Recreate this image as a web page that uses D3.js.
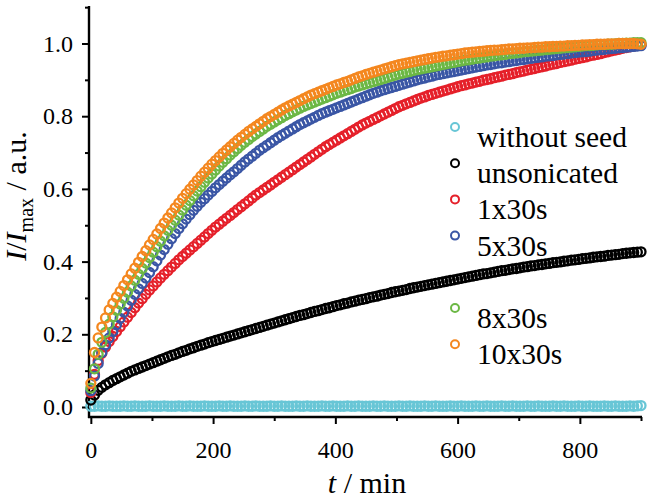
<!DOCTYPE html>
<html><head><meta charset="utf-8">
<script src="https://cdn.jsdelivr.net/npm/d3@7"></script>
<style>body{margin:0;background:#fff}svg{display:block}</style>
</head><body>
<svg id="c" width="653" height="502"></svg>
<script>
// time in minutes
const times = [
0,6,12,18,24,30,36,42,48,54,
60,66,72,78,84,90,96,102,108,114,
120,126,132,138,144,150,156,162,168,174,
180,186,192,198,204,210,216,222,228,234,
240,246,252,258,264,270,276,282,288,294,
300,306,312,318,324,330,336,342,348,354,
360,366,372,378,384,390,396,402,408,414,
420,426,432,438,444,450,456,462,468,474,
480,486,492,498,504,510,516,522,528,534,
540,546,552,558,564,570,576,582,588,594,
600,606,612,618,624,630,636,642,648,654,
660,666,672,678,684,690,696,702,708,714,
720,726,732,738,744,750,756,762,768,774,
780,786,792,798,804,810,816,822,828,834,
840,846,852,858,864,870,876,882,888,894,
900];

const seriesNames = ["without seed","unsonicated","1x30s","5x30s","8x30s","10x30s"];
const seriesColors = ["#68c6d6","#000000","#e5202a","#3a56a5","#6cb845","#f4871f"];

const withoutSeed = [
0.002,0.002,0.003,0.002,0.002,0.003,0.002,0.002,0.002,0.003,
0.002,0.002,0.003,0.002,0.002,0.002,0.003,0.002,0.002,0.002,
0.003,0.002,0.002,0.002,0.003,0.002,0.002,0.003,0.002,0.002,
0.002,0.003,0.002,0.002,0.002,0.003,0.002,0.002,0.003,0.002,
0.002,0.002,0.003,0.002,0.002,0.003,0.002,0.002,0.002,0.003,
0.002,0.002,0.003,0.002,0.002,0.002,0.003,0.002,0.002,0.003,
0.002,0.002,0.002,0.003,0.002,0.002,0.003,0.002,0.002,0.002,
0.003,0.002,0.002,0.003,0.002,0.002,0.002,0.003,0.002,0.002,
0.003,0.002,0.002,0.002,0.003,0.002,0.002,0.003,0.002,0.002,
0.002,0.003,0.002,0.002,0.003,0.002,0.002,0.002,0.003,0.002,
0.002,0.003,0.002,0.002,0.002,0.003,0.002,0.002,0.003,0.002,
0.002,0.002,0.003,0.002,0.002,0.003,0.002,0.002,0.002,0.003,
0.002,0.002,0.003,0.002,0.002,0.002,0.003,0.002,0.002,0.003,
0.002,0.002,0.002,0.003,0.002,0.002,0.003,0.002,0.002,0.002,
0.003,0.002,0.002,0.003,0.002,0.002,0.002,0.003,0.002,0.003,
0.004];

const unsonicated = [
0.019,0.033,0.046,0.054,0.061,0.067,0.073,0.078,0.083,0.088,
0.093,0.098,0.102,0.106,0.110,0.114,0.118,0.122,0.126,0.130,
0.134,0.138,0.142,0.145,0.149,0.153,0.156,0.160,0.163,0.167,
0.170,0.173,0.177,0.180,0.183,0.186,0.189,0.192,0.195,0.198,
0.201,0.204,0.207,0.210,0.213,0.216,0.219,0.222,0.225,0.228,
0.231,0.234,0.237,0.240,0.243,0.246,0.249,0.252,0.254,0.257,
0.260,0.263,0.265,0.268,0.271,0.273,0.276,0.279,0.281,0.284,
0.286,0.289,0.291,0.294,0.296,0.298,0.301,0.303,0.305,0.308,
0.310,0.312,0.315,0.317,0.319,0.321,0.323,0.326,0.328,0.330,
0.332,0.334,0.336,0.338,0.340,0.342,0.344,0.346,0.348,0.350,
0.352,0.354,0.356,0.358,0.360,0.362,0.364,0.366,0.367,0.369,
0.371,0.373,0.375,0.376,0.378,0.380,0.381,0.383,0.385,0.386,
0.388,0.389,0.391,0.392,0.394,0.395,0.397,0.398,0.399,0.401,
0.402,0.404,0.405,0.406,0.408,0.409,0.410,0.412,0.413,0.414,
0.415,0.417,0.418,0.419,0.420,0.422,0.423,0.424,0.425,0.426,
0.427];

const son1x30 = [
0.040,0.090,0.128,0.148,0.165,0.180,0.194,0.208,0.221,0.234,
0.247,0.260,0.273,0.286,0.298,0.310,0.322,0.333,0.344,0.355,
0.365,0.375,0.385,0.395,0.405,0.414,0.423,0.432,0.441,0.450,
0.459,0.468,0.477,0.486,0.495,0.503,0.511,0.519,0.527,0.535,
0.543,0.551,0.559,0.567,0.575,0.583,0.590,0.597,0.604,0.611,
0.618,0.625,0.632,0.639,0.646,0.653,0.660,0.667,0.674,0.681,
0.688,0.695,0.702,0.709,0.716,0.722,0.728,0.734,0.740,0.746,
0.752,0.758,0.764,0.770,0.776,0.781,0.786,0.791,0.796,0.801,
0.806,0.811,0.816,0.821,0.826,0.830,0.834,0.838,0.842,0.846,
0.850,0.853,0.857,0.860,0.863,0.866,0.869,0.872,0.875,0.878,
0.881,0.884,0.886,0.889,0.891,0.894,0.896,0.899,0.901,0.903,
0.906,0.908,0.910,0.913,0.915,0.917,0.920,0.922,0.924,0.927,
0.929,0.931,0.934,0.936,0.938,0.941,0.943,0.945,0.948,0.950,
0.952,0.954,0.957,0.959,0.961,0.963,0.966,0.968,0.970,0.972,
0.975,0.977,0.980,0.982,0.984,0.987,0.989,0.991,0.993,0.995,
0.996];

const son5x30 = [
0.045,0.085,0.120,0.150,0.171,0.190,0.208,0.226,0.244,0.261,
0.278,0.294,0.310,0.325,0.340,0.355,0.370,0.386,0.402,0.418,
0.433,0.448,0.463,0.477,0.491,0.504,0.517,0.529,0.541,0.552,
0.563,0.573,0.583,0.593,0.603,0.612,0.621,0.630,0.639,0.647,
0.656,0.665,0.674,0.682,0.690,0.698,0.706,0.713,0.720,0.727,
0.734,0.741,0.747,0.753,0.759,0.765,0.771,0.777,0.782,0.787,
0.792,0.797,0.802,0.807,0.811,0.815,0.819,0.823,0.827,0.831,
0.835,0.839,0.843,0.847,0.851,0.855,0.859,0.863,0.866,0.870,
0.873,0.876,0.879,0.882,0.885,0.888,0.891,0.894,0.897,0.900,
0.903,0.905,0.908,0.910,0.913,0.915,0.917,0.919,0.921,0.923,
0.925,0.927,0.929,0.931,0.933,0.935,0.937,0.939,0.941,0.942,
0.944,0.946,0.947,0.949,0.950,0.952,0.953,0.955,0.956,0.958,
0.959,0.961,0.962,0.963,0.965,0.966,0.967,0.969,0.970,0.971,
0.972,0.974,0.975,0.976,0.977,0.978,0.979,0.981,0.982,0.983,
0.984,0.985,0.986,0.987,0.988,0.989,0.990,0.991,0.992,0.993,
0.994];

const son8x30 = [
0.052,0.105,0.145,0.178,0.205,0.228,0.248,0.266,0.283,0.299,
0.316,0.333,0.349,0.365,0.381,0.396,0.411,0.426,0.441,0.456,
0.471,0.486,0.500,0.514,0.528,0.542,0.555,0.568,0.581,0.594,
0.606,0.618,0.630,0.641,0.652,0.663,0.673,0.683,0.693,0.702,
0.711,0.720,0.728,0.736,0.744,0.751,0.758,0.765,0.772,0.778,
0.784,0.790,0.796,0.802,0.807,0.812,0.817,0.822,0.827,0.831,
0.835,0.839,0.843,0.847,0.851,0.855,0.859,0.863,0.866,0.870,
0.873,0.876,0.880,0.883,0.886,0.889,0.892,0.895,0.898,0.901,
0.904,0.907,0.910,0.913,0.916,0.918,0.921,0.923,0.926,0.928,
0.930,0.932,0.934,0.936,0.938,0.940,0.942,0.944,0.946,0.948,
0.950,0.952,0.954,0.955,0.957,0.959,0.960,0.962,0.963,0.965,
0.966,0.968,0.969,0.970,0.972,0.973,0.974,0.975,0.977,0.978,
0.979,0.980,0.981,0.982,0.983,0.984,0.985,0.986,0.987,0.988,
0.989,0.990,0.991,0.992,0.993,0.994,0.994,0.995,0.996,0.997,
0.997,0.998,0.998,0.999,1.000,1.000,1.001,1.001,1.002,1.002,
1.002];

const son10x30 = [
0.065,0.150,0.190,0.220,0.245,0.267,0.285,0.302,0.318,0.334,
0.350,0.366,0.382,0.398,0.414,0.430,0.446,0.461,0.476,0.491,
0.506,0.520,0.534,0.548,0.561,0.574,0.587,0.599,0.611,0.623,
0.635,0.646,0.657,0.668,0.678,0.688,0.698,0.707,0.716,0.725,
0.734,0.742,0.750,0.758,0.765,0.772,0.779,0.786,0.793,0.799,
0.805,0.811,0.817,0.823,0.828,0.833,0.838,0.843,0.848,0.853,
0.858,0.862,0.866,0.870,0.874,0.878,0.882,0.886,0.889,0.893,
0.896,0.900,0.904,0.908,0.911,0.915,0.918,0.921,0.924,0.927,
0.930,0.933,0.936,0.939,0.942,0.944,0.946,0.948,0.950,0.952,
0.954,0.956,0.958,0.960,0.962,0.963,0.965,0.966,0.968,0.969,
0.971,0.972,0.974,0.975,0.976,0.977,0.978,0.979,0.980,0.981,
0.982,0.982,0.983,0.984,0.985,0.985,0.986,0.987,0.987,0.988,
0.988,0.989,0.990,0.990,0.991,0.991,0.992,0.992,0.993,0.993,
0.994,0.994,0.995,0.995,0.996,0.996,0.997,0.997,0.998,0.998,
0.998,0.999,0.999,0.999,1.000,1.000,1.000,1.000,1.000,0.999,
0.998];

const seriesValues = [withoutSeed, unsonicated, son1x30, son5x30, son8x30, son10x30];

const xMajorTicks = [0,200,400,600,800];
const xMinorTicks = [100,300,500,700,900];
const yMajorTicks = [0.0,0.2,0.4,0.6,0.8,1.0];
const yMinorTicks = [0.1,0.3,0.5,0.7,0.9,1.1];

const FONT = "'Liberation Serif','Times New Roman',serif";
const svg = d3.select("#c");

const x = d3.scaleLinear().domain([-3, 900]).range([89, 641]);
const y = d3.scaleLinear().domain([0, 1]).range([407, 43.5]);
const xAxisY = 417, yAxisX = 89;

// axes
const gx = svg.append("g").attr("transform",`translate(0,${xAxisY})`);
gx.call(d3.axisBottom(x).tickValues(xMajorTicks).tickSize(7).tickPadding(17).tickFormat(d3.format("d")));
const gxm = svg.append("g").attr("transform",`translate(0,${xAxisY})`);
gxm.call(d3.axisBottom(x).tickValues(xMinorTicks).tickSize(4).tickFormat(""));
const gy = svg.append("g").attr("transform",`translate(${yAxisX},0)`);
gy.call(d3.axisLeft(y).tickValues(yMajorTicks).tickSize(7).tickPadding(9).tickFormat(d3.format(".1f")));
const gym = svg.append("g").attr("transform",`translate(${yAxisX},0)`);
gym.call(d3.axisLeft(y).tickValues(yMinorTicks).tickSize(4).tickFormat(""));

[gx,gxm,gy,gym].forEach(g=>{
  g.select(".domain").remove();
  g.selectAll(".tick line").attr("stroke","#000").attr("stroke-width",2);
  g.selectAll(".tick text").attr("font-family",FONT).attr("font-size",24).attr("fill","#000");
});
svg.append("line").attr("x1",yAxisX-1).attr("x2",x(900)+1).attr("y1",xAxisY).attr("y2",xAxisY)
  .attr("stroke","#000").attr("stroke-width",2.4);
svg.append("line").attr("x1",yAxisX).attr("x2",yAxisX).attr("y1",6).attr("y2",xAxisY+1)
  .attr("stroke","#000").attr("stroke-width",2.4);

// data
seriesValues.forEach((vals,i)=>{
  svg.append("g").selectAll("circle")
    .data(d3.zip(times, vals))
    .join("circle")
    .attr("cx",d=>x(d[0])).attr("cy",d=>y(d[1]))
    .attr("r",4.5).attr("fill","none")
    .attr("stroke",seriesColors[i]).attr("stroke-width",2.3);
});

// legend
const lg = svg.append("g");
seriesNames.forEach((name,i)=>{
  const slot = i < 4 ? i : i + 1;
  const cy = 127 + slot*36.2;
  lg.append("circle").attr("cx",455).attr("cy",cy).attr("r",4)
    .attr("fill","none").attr("stroke",seriesColors[i]).attr("stroke-width",2);
  lg.append("text").attr("x",477).attr("y",cy+20).attr("font-family",FONT)
    .attr("font-size",29.5).attr("fill","#000").text(name);
});

// axis titles
const xt = svg.append("text").attr("x",367).attr("y",493).attr("text-anchor","middle")
  .attr("font-family",FONT).attr("font-size",30).attr("fill","#000");
xt.append("tspan").attr("font-style","italic").text("t");
xt.append("tspan").text(" / min");

const yt = svg.append("text").attr("transform","translate(26,196) rotate(-90)")
  .attr("text-anchor","middle").attr("font-family",FONT).attr("font-size",30).attr("fill","#000");
yt.append("tspan").attr("font-style","italic").text("I");
yt.append("tspan").text("/");
yt.append("tspan").attr("font-style","italic").text("I");
yt.append("tspan").attr("font-size",20).attr("dy",7).text("max");
yt.append("tspan").attr("dy",-7).text(" / a.u.");
</script>
</body></html>
